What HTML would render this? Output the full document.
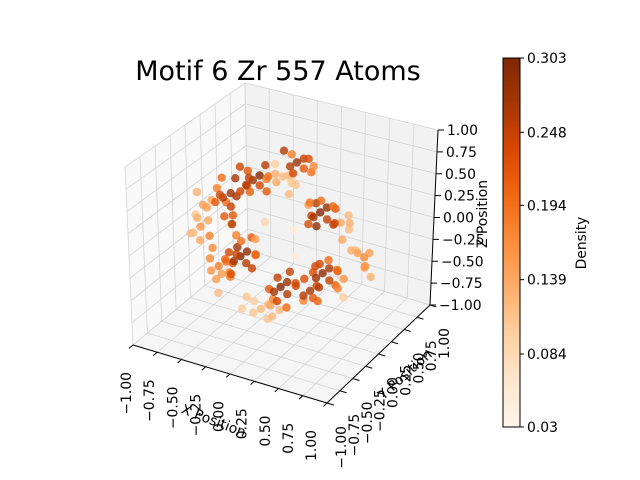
<!DOCTYPE html>
<html><head><meta charset="utf-8"><style>
html,body{margin:0;padding:0;background:#fff;}
svg{display:block;font-family:"DejaVu Sans","Liberation Sans",sans-serif;}
</style></head><body>
<svg id="chart" width="640" height="480" viewBox="0 0 640 480" xmlns="http://www.w3.org/2000/svg">
<rect width="640" height="480" fill="#fff"/>
<text x="278" y="80" font-size="27" text-anchor="middle" fill="#000">Motif 6 Zr 557 Atoms</text>
<g id="panes"></g>
<g id="grid"></g>
<g id="axes"></g>
<g id="points"></g>
<g id="ticks"></g>
<text x="212" y="425" font-size="13.9" text-anchor="middle" transform="rotate(21 212 425)">X Position</text>
<text x="408" y="378" font-size="13.9" text-anchor="middle" transform="rotate(-42 408 378)">Y Position</text>
<text x="487" y="214" font-size="13.9" text-anchor="middle" transform="rotate(-90 487 214)">Z Position</text>
<defs><linearGradient id="cg" x1="0" y1="1" x2="0" y2="0">
<stop offset="0" stop-color="#fff5eb"/><stop offset="0.125" stop-color="#fee6ce"/><stop offset="0.25" stop-color="#fdd0a2"/><stop offset="0.375" stop-color="#fdae6b"/><stop offset="0.5" stop-color="#fd8d3c"/><stop offset="0.625" stop-color="#f16913"/><stop offset="0.75" stop-color="#d94801"/><stop offset="0.875" stop-color="#a63603"/><stop offset="1" stop-color="#7f2704"/>
</linearGradient></defs>
<rect x="503" y="58" width="17" height="369" fill="url(#cg)" stroke="#000" stroke-width="1"/>
<g id="cbticks"></g>
<text x="586" y="243" font-size="13.9" text-anchor="middle" transform="rotate(-90 586 243)">Density</text>
</svg>
<script>
const xs=[-0.63,-0.58,-0.68,-0.55,-0.72,-0.60,-0.66,-0.52,-0.75,-0.50,
-0.32,-0.28,-0.36,-0.25,-0.40,-0.30,-0.22,-0.38,
0.13,0.17,0.09,0.20,0.05,0.15,
-0.01,0.04,-0.06,0.02,-0.08,0.08,
0.37,0.41,0.33,0.44,0.30,0.39,0.47,0.28,0.35,
0.58,0.64,0.70,0.76,0.80,0.72,0.84,0.68,
-0.87,-0.82,-0.92,-0.78,-0.95,-0.84,
-0.46,-0.42,-0.50,-0.40,-0.52,-0.44,-0.36,-0.54,-0.48,
-0.69,-0.64,-0.74,-0.66,-0.60,
-0.04,0.00,-0.08,0.03,-0.10,-0.02,0.06,
0.27,0.31,0.23,0.30,
0.40,0.44,0.36,0.47,0.34,0.42,0.50,
-0.25,-0.20,-0.30,-0.15,-0.35,-0.10,
-0.20,-0.55,0.10,-0.30,
-0.80,-0.45,-0.70,-0.48,-0.90,-0.62,-0.56,
-0.18,-0.45,-0.25,-0.15,-0.35,
0.25,0.00,0.22,0.30,
0.12,-0.12,0.05,
0.50,0.25,0.45,0.32,0.52,0.22,
0.60,0.88,0.78,0.90,0.66,
-0.98,-0.90,-0.75,-0.88,
-0.58,-0.34,-0.40,-0.56,-0.30,-0.50,-0.62,
-0.78,-0.72,-0.58,
0.12,-0.16,0.00,0.08,-0.12,
0.20,0.35,0.18,
0.55,0.30,0.48,0.56,0.38,0.62,0.46,
-0.40,-0.05,-0.45,-0.18,
0.62,-0.70,0.10];
const ys=[0,0.05,-0.05,0,0.05,-0.1,0.1,0.05,0,-0.05,
0,0.05,-0.05,0,0.05,-0.1,0.1,0,
0,0.05,-0.05,0,0.05,-0.1,
0,0.05,-0.05,0.1,0,-0.05,
0,0.05,-0.05,0,0.05,-0.1,0.1,0,0.05,
0,0.05,-0.05,0,0.05,-0.05,0,0.1,
0,0.05,-0.05,0,0.05,-0.1,
0,0.05,-0.05,0,0.05,-0.1,0.1,0,0.05,
0,0.05,-0.05,0,0.05,
0,0.05,-0.05,0,0.05,-0.1,0.1,
0,0.05,-0.05,0,
0,0.05,-0.05,0,0.05,-0.1,0.1,
0,0.05,-0.05,0,0.05,-0.05,
0,0,0,0,
0,0,0.1,-0.1,0,0,0.1,
0,0,0.1,-0.05,0,
0,0,0.1,0,
0,0.05,0,
0,0,0.1,-0.1,0,0.05,
0,0,0.1,0,0,
0,0.1,0,0,
0,0,0.1,0.1,0,-0.1,0,
0,0,0,
0,0,0.1,-0.1,0,
0,0,0.05,
0,0,0.1,0,-0.1,0,0,
0,0,0,0,
0,0,0];
const zs=[0.26,0.30,0.22,0.18,0.32,0.35,0.15,0.28,0.20,0.12,
0.54,0.58,0.50,0.50,0.60,0.62,0.56,0.46,
0.85,0.88,0.82,0.80,0.90,0.78,
0.66,0.62,0.70,0.55,0.58,0.72,
0.36,0.40,0.32,0.30,0.42,0.26,0.38,0.30,0.46,
0.30,0.22,0.35,0.02,-0.04,0.06,-0.10,-0.02,
-0.14,-0.08,-0.20,-0.22,-0.05,0.02,
-0.36,-0.32,-0.40,-0.42,-0.30,-0.28,-0.36,-0.46,-0.22,
-0.54,-0.50,-0.58,-0.62,-0.66,
-0.58,-0.54,-0.62,-0.64,-0.52,-0.68,-0.56,
-0.53,-0.49,-0.57,-0.60,
-0.30,-0.26,-0.34,-0.36,-0.24,-0.40,-0.30,
-0.89,-0.85,-0.92,-0.82,-0.86,-0.90,
0.10,-0.02,-0.20,-0.12,
0.10,0.38,0.42,0.05,0.25,0.05,0.45,
0.45,0.66,0.68,0.62,0.40,
0.92,0.95,0.72,0.85,
0.60,0.75,0.48,
0.46,0.20,0.20,0.50,0.28,0.38,
0.12,0.05,-0.18,-0.20,0.40,
-0.25,0.05,-0.35,-0.30,
-0.35,-0.46,-0.18,-0.20,-0.30,-0.52,-0.44,
-0.48,-0.70,-0.58,
-0.52,-0.64,-0.45,-0.72,-0.74,
-0.66,-0.62,-0.45,
-0.22,-0.32,-0.46,-0.42,-0.18,-0.30,-0.14,
-0.80,-0.84,-0.95,-0.98,
-0.50,-0.85,0.10];
const dens=[0.26,0.28,0.22,0.25,0.18,0.24,0.20,0.27,0.14,0.22,
0.28,0.30,0.26,0.24,0.22,0.25,0.20,0.23,
0.28,0.25,0.26,0.22,0.18,0.24,
0.12,0.10,0.13,0.11,0.14,0.12,
0.30,0.28,0.27,0.25,0.26,0.29,0.22,0.24,0.20,
0.14,0.12,0.13,0.15,0.17,0.13,0.16,0.12,
0.16,0.14,0.12,0.18,0.11,0.13,
0.30,0.29,0.27,0.26,0.28,0.25,0.23,0.22,0.20,
0.18,0.20,0.16,0.15,0.19,
0.30,0.28,0.27,0.26,0.25,0.24,0.23,
0.27,0.24,0.26,0.22,
0.29,0.27,0.28,0.25,0.24,0.26,0.22,
0.12,0.13,0.11,0.14,0.10,0.12,
0.09,0.13,0.05,0.15,
0.15,0.24,0.20,0.26,0.13,0.22,0.27,
0.22,0.24,0.26,0.19,0.21,
0.23,0.26,0.20,0.17,
0.11,0.10,0.12,
0.20,0.23,0.26,0.19,0.24,0.15,
0.14,0.15,0.16,0.13,0.12,
0.12,0.15,0.17,0.14,
0.24,0.25,0.22,0.18,0.20,0.23,0.21,
0.17,0.15,0.18,
0.24,0.22,0.25,0.20,0.18,
0.18,0.21,0.23,
0.20,0.23,0.21,0.18,0.24,0.16,0.20,
0.11,0.12,0.10,0.11,
0.10,0.12,0.05];
const axisTicks=[-1,-0.75,-0.5,-0.25,0,0.25,0.5,0.75,1];
const tickLabels=["\u22121.00","\u22120.75","\u22120.50","\u22120.25","0.00","0.25","0.50","0.75","1.00"];
const cbTicks=[0.03,0.084,0.139,0.194,0.248,0.303];
const cbLabels=["0.03","0.084","0.139","0.194","0.248","0.303"];
const vmin=0.03,vmax=0.303;

const NS="http://www.w3.org/2000/svg";
const K={"000":[133,345],"100":[327,403],"110":[430,305],"010":[248,250],
"001":[125,167],"101":[328,205],"111":[438,130],"011":[245,83]};
function P(x,y,z){const u=(x+1)/2,v=(y+1)/2,w=(z+1)/2;let sx=0,sy=0;
for(const a of[0,1])for(const b of[0,1])for(const c of[0,1]){const wt=(a?u:1-u)*(b?v:1-v)*(c?w:1-w);const k=K[""+a+b+c];sx+=wt*k[0];sy+=wt*k[1];}
return[sx,sy];}
function mk(tag,at,parent){const e=document.createElementNS(NS,tag);for(const k in at)e.setAttribute(k,at[k]);parent.appendChild(e);return e;}
function poly(pts){return pts.map(p=>p[0].toFixed(1)+","+p[1].toFixed(1)).join(" ");}
const panes=document.getElementById('panes'),grid=document.getElementById('grid'),axes=document.getElementById('axes'),pts=document.getElementById('points'),ticks=document.getElementById('ticks');
let e;
e=mk('polygon',{points:poly([P(-1,-1,-1),P(-1,1,-1),P(-1,1,1),P(-1,-1,1)]),fill:'#f9f9f9'},panes);


e=mk('polygon',{points:poly([P(-1,1,-1),P(1,1,-1),P(1,1,1),P(-1,1,1)]),fill:'#f2f2f2'},panes);


e=mk('polygon',{points:poly([P(-1,-1,-1),P(1,-1,-1),P(1,1,-1),P(-1,1,-1)]),fill:'#f5f5f5'},panes);


function line(a,b,parent,st,w,name){const l=mk('line',{x1:a[0],y1:a[1],x2:b[0],y2:b[1],stroke:st,'stroke-width':w},parent);

return l;}
for(const t of axisTicks){
line(P(-1,t,-1),P(-1,t,1),grid,'#d4d4d4',0.8,'grid-line');
line(P(-1,-1,t),P(-1,1,t),grid,'#d4d4d4',0.8,'grid-line');
line(P(t,1,-1),P(t,1,1),grid,'#d4d4d4',0.8,'grid-line');
line(P(-1,1,t),P(1,1,t),grid,'#d4d4d4',0.8,'grid-line');
line(P(t,-1,-1),P(t,1,-1),grid,'#d4d4d4',0.8,'grid-line');
line(P(-1,t,-1),P(1,t,-1),grid,'#d4d4d4',0.8,'grid-line');
}
line(P(-1,-1,-1),P(1,-1,-1),axes,'#000',1,'x-axis-line');
line(P(1,-1,-1),P(1,1,-1),axes,'#000',1,'y-axis-line');
line(P(1,1,-1),P(1,1,1),axes,'#000',1,'z-axis-line');
axisTicks.forEach((t,i)=>{
let p=P(t,-1,-1),q=P(t,-1.07,-1);line(p,q,axes,'#000',1,'x-tick');
let tx=p[0]-6-(t+1)*4.5,ty=p[1]+27;
e=mk('text',{x:tx,y:ty,'font-size':13.9,'text-anchor':'end','dominant-baseline':'central',transform:`rotate(-90 ${tx} ${ty})`},ticks);e.textContent=tickLabels[i];


p=P(1,t,-1);q=P(1.07,t,-1);line(p,q,axes,'#000',1,'y-tick');
tx=p[0]+15;ty=p[1]+23;
e=mk('text',{x:tx,y:ty,'font-size':13.9,'text-anchor':'end','dominant-baseline':'central',transform:`rotate(-90 ${tx} ${ty})`},ticks);e.textContent=tickLabels[i];


p=P(1,1,t);q=[p[0]+6,p[1]];line(p,q,axes,'#000',1,'z-tick');
e=mk('text',{x:p[0]+9,y:p[1]+5,'font-size':13.9},ticks);e.textContent=tickLabels[i];


});
const stops=["#fff5eb","#fee6ce","#fdd0a2","#fdae6b","#fd8d3c","#f16913","#d94801","#a63603","#7f2704"].map(h=>[parseInt(h.slice(1,3),16),parseInt(h.slice(3,5),16),parseInt(h.slice(5,7),16)]);
function cmap(d){let f=Math.max(0,Math.min(1,(d-vmin)/(vmax-vmin)))*(stops.length-1);const i=Math.min(stops.length-2,Math.floor(f)),r=f-i;
const c=stops[i].map((v,k)=>Math.round(v+(stops[i+1][k]-v)*r));return `rgb(${c[0]},${c[1]},${c[2]})`;}
const order=xs.map((_,i)=>i).sort((a,b)=>ys[b]-ys[a]);
for(const i of order){const p=P(xs[i],ys[i],zs[i]);
e=mk('circle',{cx:p[0].toFixed(1),cy:p[1].toFixed(1),r:4.2,fill:cmap(dens[i]),'fill-opacity':0.8},pts);

}
const cbt=document.getElementById('cbticks');
cbTicks.forEach((v,i)=>{const y=427-(v-vmin)/(vmax-vmin)*369;
line([520,y],[524,y],cbt,'#000',1,'colorbar-tick');
e=mk('text',{x:527,y:y+5,'font-size':13.9},cbt);e.textContent=cbLabels[i];

});
</script>
</body></html>
